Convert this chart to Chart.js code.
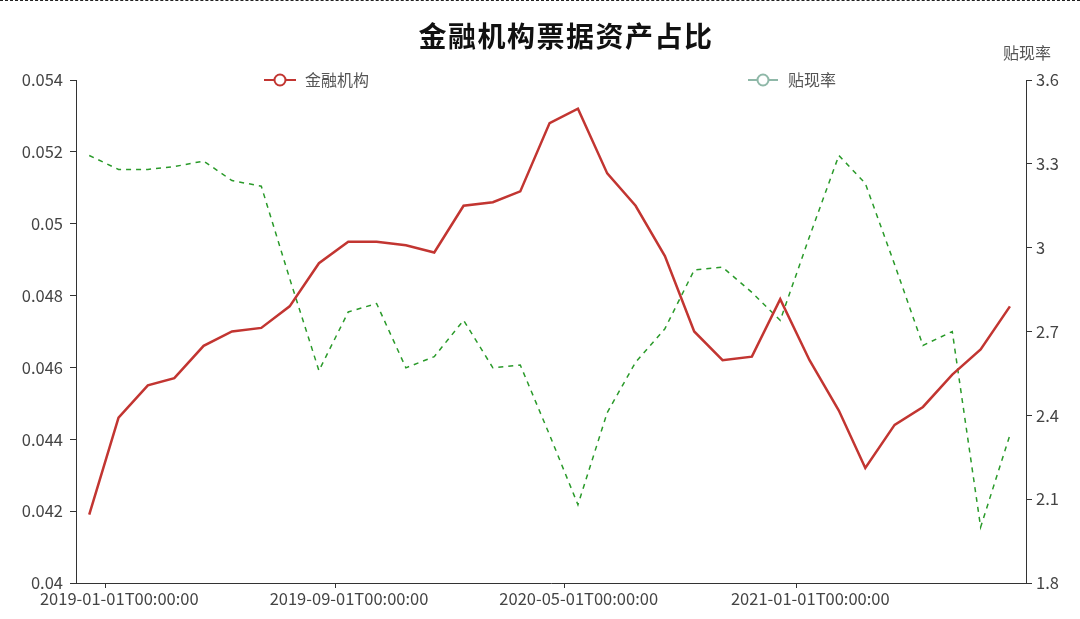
<!DOCTYPE html>
<html>
<head>
<meta charset="utf-8">
<script src="https://cdn.jsdelivr.net/npm/chart.js@4.4.1/dist/chart.umd.min.js"></script>
<style>
html,body{margin:0;padding:0;background:#fff;}
#wrap{position:relative;width:1080px;height:619px;}
#topline{position:absolute;left:0;top:0;width:1080px;height:0;border-top:1px dashed #222;}
</style>
</head>
<body>
<div id="wrap"><canvas id="c"></canvas><div id="topline"></div></div>
<script>
// ---- data ----
const dates = [
  '2018-12-15','2019-01-15','2019-02-15','2019-03-15','2019-04-15','2019-05-15',
  '2019-06-15','2019-07-15','2019-08-15','2019-09-15','2019-10-15','2019-11-15',
  '2019-12-15','2020-01-15','2020-02-15','2020-03-15','2020-04-15','2020-05-15',
  '2020-06-15','2020-07-15','2020-08-15','2020-09-15','2020-10-15','2020-11-15',
  '2020-12-15','2021-01-15','2021-02-15','2021-03-15','2021-04-15','2021-05-15',
  '2021-06-15','2021-07-15','2021-08-15'
];
const finInst = [
  0.0419,0.0446,0.0455,0.0457,0.0466,0.0470,0.0471,0.0477,0.0489,0.0495,0.0495,
  0.0494,0.0492,0.0505,0.0506,0.0509,0.0528,0.0532,0.0514,0.0505,0.0491,0.0470,
  0.0462,0.0463,0.0479,0.0462,0.0448,0.0432,0.0444,0.0449,0.0458,0.0465,0.0477
];
const discountRate = [
  3.33,3.28,3.28,3.29,3.31,3.24,3.22,2.89,2.56,2.77,2.80,
  2.57,2.61,2.74,2.57,2.58,2.33,2.08,2.41,2.59,2.71,2.92,
  2.93,2.84,2.74,3.04,3.33,3.23,2.94,2.65,2.70,2.00,2.33
];
const seriesNames = ['金融机构','贴现率'];
const xTickDates = ['2019-01-01','2019-09-01','2020-05-01','2021-01-01'];
const xRange = ['2018-12-01','2021-09-01'];
const leftRange = [0.04, 0.054, 0.002];
const rightRange = [1.8, 3.6, 0.3];
const titleText = '金融机构票据资产占比';
const rightAxisName = '贴现率';

// ---- helpers ----
const ts = d => new Date(d + 'T00:00:00Z').getTime();
const fmtDate = v => new Date(v).toISOString().slice(0,19);
const FONT = '"Noto Sans CJK SC","Noto Sans",sans-serif';
Chart.defaults.font.family = FONT;
Chart.defaults.font.size = 16.5;
Chart.defaults.color = '#444';

const legendColors = ['#c23531','#8fb8a8'];

const decor = {
  id: 'decor',
  afterDraw(chart) {
    const ctx = chart.ctx;
    ctx.save();
    // title
    ctx.fillStyle = '#111';
    ctx.font = 'bold 28px ' + FONT;
    ctx.textAlign = 'center';
    ctx.textBaseline = 'middle';
    try { ctx.letterSpacing = '1.5px'; } catch (e) {}
    ctx.fillText(titleText, 566, 36);
    try { ctx.letterSpacing = '0px'; } catch (e) {}
    // right axis name
    ctx.fillStyle = '#555';
    ctx.font = '16px ' + FONT;
    ctx.fillText(rightAxisName, 1027, 53);
    // legend
    const items = [{x1:264, x2:296, tx:305}, {x1:748, x2:778, tx:788}];
    const ly = 80;
    items.forEach((it, i) => {
      const col = legendColors[i];
      ctx.strokeStyle = col;
      ctx.lineWidth = 2;
      ctx.beginPath();
      ctx.moveTo(it.x1, ly); ctx.lineTo(it.x2, ly);
      ctx.stroke();
      ctx.beginPath();
      ctx.arc((it.x1 + it.x2) / 2, ly, 5.5, 0, Math.PI * 2);
      ctx.fillStyle = '#fff';
      ctx.fill();
      ctx.stroke();
      ctx.fillStyle = '#555';
      ctx.textAlign = 'left';
      ctx.textBaseline = 'middle';
      ctx.font = '16px ' + FONT;
      ctx.fillText(seriesNames[i], it.tx, ly);
    });
    ctx.restore();
  }
};

const axisGrid = {drawOnChartArea:false, drawTicks:true, tickLength:6, color:'#333', tickColor:'#333', lineWidth:1};
const axisBorder = {display:true, color:'#333', width:1};

new Chart(document.getElementById('c'), {
  type: 'line',
  data: {
    datasets: [
      {
        label: seriesNames[0],
        data: dates.map((d, i) => ({x: ts(d), y: finInst[i]})),
        borderColor: '#c23531',
        backgroundColor: '#c23531',
        borderWidth: 2.5,
        pointRadius: 0,
        tension: 0,
        yAxisID: 'y'
      },
      {
        label: seriesNames[1],
        data: dates.map((d, i) => ({x: ts(d), y: discountRate[i]})),
        borderColor: '#2a9a2a',
        backgroundColor: '#2a9a2a',
        borderWidth: 1.5,
        borderDash: [5, 5],
        pointRadius: 0,
        tension: 0,
        yAxisID: 'y1'
      }
    ]
  },
  options: {
    responsive: true,
    maintainAspectRatio: false,
    animation: false,
    events: [],
    layout: {padding: {top: 80, left: 0, right: 0, bottom: 0}},
    plugins: {legend: {display: false}, title: {display: false}, tooltip: {enabled: false}},
    scales: {
      x: {
        type: 'linear',
        min: ts(xRange[0]),
        max: ts(xRange[1]),
        afterBuildTicks: s => { s.ticks = xTickDates.map(d => ({value: ts(d)})); },
        afterFit: s => { s.height = 36; },
        grid: Object.assign({}, axisGrid, {tickLength: 5}),
        border: axisBorder,
        ticks: {
          autoSkip: false, maxRotation: 0, minRotation: 0, padding: 1,
          labelOffset: 14,
          color: '#444', font: {size: 16.5},
          callback: v => fmtDate(v)
        }
      },
      y: {
        position: 'left',
        min: leftRange[0], max: leftRange[1],
        afterFit: s => { s.width = 76; },
        grid: axisGrid,
        border: axisBorder,
        ticks: {stepSize: leftRange[2], padding: 7, color: '#444', font: {size: 16.5},
                callback: v => String(+(+v).toFixed(4))}
      },
      y1: {
        position: 'right',
        min: rightRange[0], max: rightRange[1],
        afterFit: s => { s.width = 54; },
        grid: axisGrid,
        border: axisBorder,
        ticks: {stepSize: rightRange[2], padding: 4, color: '#444', font: {size: 16.5},
                callback: v => String(+(+v).toFixed(2))}
      }
    }
  },
  plugins: [decor]
});
</script>
</body>
</html>
